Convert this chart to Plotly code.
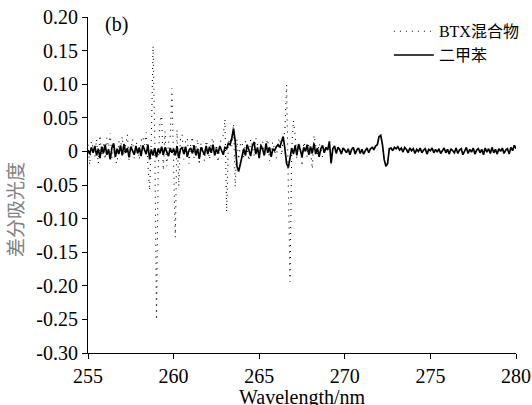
import plotly.graph_objects as go

# wavelength grids (nm)
wl_xylene = [round(255.0 + 0.1 * i, 1) for i in range(251)]
wl_btx = [round(255.0 + 0.1 * i, 1) for i in range(140)]

# 二甲苯 (xylene) differential absorbance, 255.0–280.0 nm
xylene = [
    0.002, -0.004, 0.006, -0.002, 0.008, -0.006, 0.004, -0.010, 0.007, -0.003,
    0.010, -0.005, 0.003, -0.012, 0.006, 0.012, -0.008, 0.004, -0.004, 0.009,
    -0.006, 0.011, -0.002, 0.005, -0.009, 0.007, 0.001, -0.005, 0.008, -0.003,
    0.006, -0.007, 0.009, 0.002, -0.004, 0.010, -0.012, 0.003, -0.006, 0.005,
    -0.009, 0.004, -0.003, 0.007, -0.005, 0.006, 0.000, -0.007, 0.005, -0.002,
    0.004, -0.006, 0.008, -0.010, 0.003, 0.006, -0.004, 0.007, -0.008, 0.002,
    0.005, -0.003, 0.009, -0.006, 0.004, -0.011, 0.006, 0.001, -0.005, 0.008,
    -0.004, 0.007, -0.002, 0.010, -0.006, 0.004, -0.003, 0.008, 0.002, -0.005,
    0.006, 0.004, 0.012, 0.010, 0.020, 0.034, 0.015, -0.022, -0.030, -0.018,
    -0.008, 0.004, -0.006, 0.010, 0.002, -0.007, 0.008, 0.014, -0.004, 0.006,
    -0.010, 0.009, 0.003, -0.006, 0.012, -0.002, 0.006, -0.008, 0.004, 0.001,
    0.007, 0.010, 0.006, 0.016, 0.022, 0.004, -0.018, -0.024, -0.010, 0.005,
    -0.004, 0.009, -0.006, 0.011, 0.002, -0.008, 0.006, 0.000, 0.010, -0.005,
    0.007, -0.003, 0.012, -0.004, 0.005, -0.008, 0.004, 0.009, -0.002, 0.006,
    0.002, 0.015, -0.018, 0.004, 0.008, -0.003, 0.006, 0.003, -0.004, 0.005,
    0.002, -0.002, 0.004, -0.005, 0.003, 0.006, -0.004, 0.002, 0.005, -0.003,
    0.003, -0.004, 0.001, 0.005, -0.002, 0.004, 0.006, 0.003, 0.008, 0.010,
    0.022, 0.024, 0.010, -0.012, -0.022, -0.018, 0.004, 0.005, 0.001, 0.006,
    0.004, 0.007, 0.002, 0.005, -0.001, 0.006, 0.003, -0.002, 0.005, 0.001,
    0.004, -0.003, 0.003, 0.000, 0.005, -0.002, 0.002, 0.004, -0.004, 0.003,
    0.001, 0.005, -0.002, 0.003, -0.001, 0.004, -0.003, 0.002, 0.005, -0.002,
    0.003, -0.004, 0.004, 0.001, -0.002, 0.005, -0.003, 0.002, 0.004, -0.005,
    0.002, 0.006, -0.003, 0.003, -0.001, 0.005, -0.004, 0.002, 0.004, -0.002,
    0.003, -0.005, 0.005, -0.001, 0.004, -0.003, 0.006, -0.002, 0.003, -0.004,
    0.004, 0.000, 0.005, -0.003, 0.002, 0.004, -0.004, 0.006, 0.001, 0.009,
    0.004,
]

# BTX混合物 differential absorbance, 255.0–268.9 nm
btx = [
    0.010, -0.020, 0.015, 0.005, -0.008, 0.018, -0.018, 0.024, -0.005, 0.012,
    -0.012, 0.020, 0.006, 0.027, -0.010, 0.008, -0.015, -0.018, 0.015, 0.004,
    0.022, -0.006, 0.012, 0.025, -0.014, 0.005, 0.018, -0.010, 0.014, 0.008,
    -0.012, 0.016, 0.022, 0.010, 0.028, -0.020, -0.058, 0.020, 0.157, 0.020,
    -0.251, -0.030, 0.045, 0.053, -0.028, 0.030, -0.022, 0.012, 0.022, 0.094,
    -0.020, -0.128, 0.032, -0.052, 0.018, 0.025, -0.012, 0.015, 0.020, -0.018,
    0.010, 0.022, -0.010, 0.006, 0.018, -0.020, 0.012, 0.004, -0.014, 0.016,
    0.008, -0.012, 0.014, 0.020, -0.008, 0.010, -0.016, 0.012, 0.018, 0.024,
    0.048, -0.090, 0.012, 0.020, 0.008, 0.041, -0.053, 0.018, -0.012, 0.010,
    0.014, -0.010, 0.016, 0.004, -0.014, 0.018, 0.008, -0.006, 0.020, 0.010,
    -0.012, 0.012, 0.016, -0.008, 0.010, 0.018, -0.014, 0.006, 0.014, 0.004,
    -0.010, 0.014, 0.020, -0.006, 0.018, 0.030, 0.099, -0.050, -0.194, 0.004,
    0.046, 0.024, -0.010, 0.012, 0.008, -0.022, 0.014, 0.006, -0.008, 0.012,
    0.004, -0.026, 0.024, 0.010, -0.006, 0.012, 0.004, -0.008, 0.006, 0.002,
]

y_ticks = [0.20, 0.15, 0.10, 0.05, 0, -0.05, -0.10, -0.15, -0.20, -0.25, -0.30]
y_ticktext = ["0.20", "0.15", "0.10", "0.05", "0", "-0.05", "-0.10", "-0.15", "-0.20", "-0.25", "-0.30"]
x_ticks = [255, 260, 265, 270, 275, 280]

serif = "Liberation Serif, Times New Roman, Noto Sans CJK SC, serif"

fig = go.Figure()
fig.add_trace(go.Scatter(
    x=wl_btx, y=btx, mode="lines", name="BTX混合物",
    line=dict(color="black", width=1.1, dash="1px,5px"),
))
fig.add_trace(go.Scatter(
    x=wl_xylene, y=xylene, mode="lines", name="二甲苯",
    line=dict(color="black", width=1.7),
))

fig.update_layout(
    width=532, height=405,
    margin=dict(l=88, r=16, t=17, b=52, autoexpand=False),
    paper_bgcolor="white", plot_bgcolor="white",
    font=dict(family=serif, size=20, color="black"),
    showlegend=True,
    legend=dict(
        x=0.703, y=1.008, xanchor="left", yanchor="top",
        bgcolor="rgba(0,0,0,0)", borderwidth=0,
        font=dict(family=serif, size=16, color="black"),
        itemwidth=40, tracegroupgap=0,
    ),
    xaxis=dict(
        range=[255, 280], tickvals=x_ticks, ticktext=[str(v) for v in x_ticks],
        showline=True, linecolor="black", linewidth=1,
        ticks="outside", ticklen=5, tickcolor="black",
        showgrid=False, zeroline=False, automargin=False,
        tickfont=dict(family=serif, size=20, color="black"),
    ),
    yaxis=dict(
        range=[-0.30, 0.20], tickvals=y_ticks, ticktext=y_ticktext,
        showline=True, linecolor="black", linewidth=1,
        ticks="outside", ticklen=5, tickcolor="black",
        showgrid=False, zeroline=False, automargin=False,
        tickfont=dict(family=serif, size=20, color="black"),
    ),
    annotations=[
        dict(text="(b)", x=0.036, y=0.977, xref="paper", yref="paper",
             xanchor="left", yanchor="middle", showarrow=False,
             font=dict(family=serif, size=20, color="black")),
        dict(text="Wavelength/nm", x=0.5, y=-0.132, xref="paper", yref="paper",
             xanchor="center", yanchor="middle", showarrow=False,
             font=dict(family=serif, size=20, color="black")),
        dict(text="差分吸光度", x=-0.17, y=0.426, xref="paper", yref="paper",
             xanchor="center", yanchor="middle", showarrow=False, textangle=-90,
             font=dict(family="Noto Sans CJK SC", size=19, color="#808080")),
    ],
)

fig.write_html("out.html")
